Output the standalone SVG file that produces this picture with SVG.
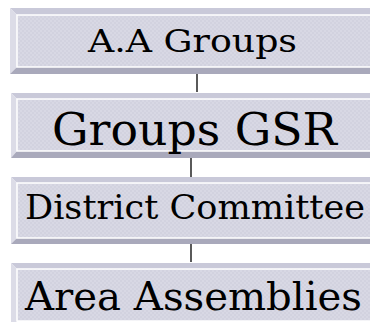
<svg xmlns="http://www.w3.org/2000/svg" width="370" height="322" viewBox="0 0 370 322">
<style>
.top{fill:#c9c9d9}
.left{fill:#dcdce7}
.bot{fill:#a9a9bb}
.face{fill:url(#tex);stroke:#ffffff;stroke-width:1.5}
.lbl{font-family:"DejaVu Serif","Liberation Serif",serif;fill:#000;text-anchor:middle}
.conn{stroke:#000;stroke-width:1.3;fill:none}
</style>
<defs>
<pattern id="tex" width="4" height="4" patternUnits="userSpaceOnUse">
<rect width="4" height="4" fill="#d8d8e4"/>
<rect width="2" height="2" fill="#d2d2df"/>
<rect x="2" y="2" width="2" height="2" fill="#d2d2df"/>
</pattern>
</defs>
<g id="connectors">
<line class="conn" x1="197" y1="74" x2="197" y2="92"/>
<line class="conn" x1="191" y1="158" x2="191" y2="177"/>
<line class="conn" x1="191" y1="244" x2="191" y2="262"/>
</g>
<g id="node-aa-groups">
<polygon class="top" points="10,8 392,8 385,15 17,15"/>
<polygon class="left" points="10,8 17,15 17,67 10,74"/>
<polygon class="bot" points="10,74 17,67 385,67 392,74"/>
<rect class="face" x="17" y="15" width="368" height="52"/>
<text class="lbl" x="192.5" y="52" font-size="32" textLength="209" lengthAdjust="spacingAndGlyphs">A.A Groups</text>
</g>
<g id="node-groups-gsr">
<polygon class="top" points="11,93 392,93 385,99 17,99"/>
<polygon class="left" points="11,93 17,99 17,151 11,158"/>
<polygon class="bot" points="11,158 17,151 385,151 392,158"/>
<rect class="face" x="17" y="99" width="368" height="52"/>
<text class="lbl" x="194.5" y="145" font-size="44" textLength="285" lengthAdjust="spacingAndGlyphs">Groups GSR</text>
</g>
<g id="node-district-committee">
<polygon class="top" points="11,177 392,177 385,183 17,183"/>
<polygon class="left" points="11,177 17,183 17,238 11,244"/>
<polygon class="bot" points="11,244 17,238 385,238 392,244"/>
<rect class="face" x="17" y="183" width="368" height="55"/>
<text class="lbl" x="195" y="219" font-size="33" textLength="340" lengthAdjust="spacingAndGlyphs">District Committee</text>
</g>
<g id="node-area-assemblies">
<polygon class="top" points="11,263 392,263 385,269 17,269"/>
<polygon class="left" points="11,263 17,269 17,330 11,336"/>
<rect class="face" x="17" y="269" width="368" height="52"/>
<text class="lbl" x="193.5" y="310" font-size="39" textLength="337" lengthAdjust="spacingAndGlyphs">Area Assemblies</text>
</g>
</svg>
